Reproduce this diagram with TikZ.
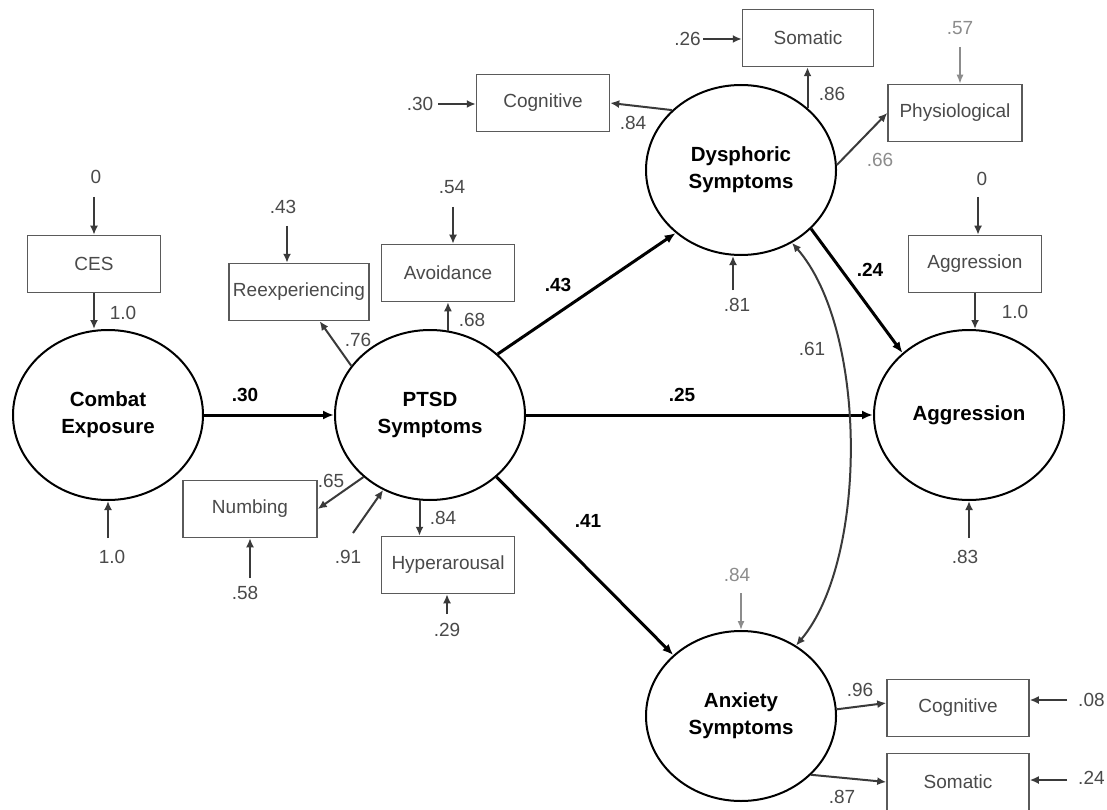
\documentclass[tikz,border=0pt]{standalone}
\usepackage{fontspec}
\setmainfont{Liberation Sans}
\usetikzlibrary{arrows.meta,shapes.geometric,calc}
\definecolor{ln}{HTML}{3A3A3A}
\definecolor{boxc}{HTML}{5A5A5A}
\definecolor{txtc}{HTML}{4A4A4A}
\definecolor{lgray}{HTML}{8C8C8C}
\begin{document}
\begin{tikzpicture}[x=1pt,y=-1pt,
  latent/.style={ellipse,draw=black,line width=2pt,inner sep=0pt,minimum width=190pt,minimum height=170pt,align=center,font=\fontsize{20.5}{27}\selectfont\bfseries},
  obs/.style={rectangle,draw=boxc,line width=1.5pt,minimum width=133pt,minimum height=57pt,inner sep=0pt,font=\fontsize{19}{21}\selectfont,text=txtc},
  num/.style={font=\fontsize{19}{21}\selectfont,text=txtc,inner sep=0pt},
  lnum/.style={font=\fontsize{19}{21}\selectfont,text=lgray,inner sep=0pt},
  bnum/.style={font=\fontsize{19}{21}\selectfont\bfseries,text=black,inner sep=0pt},
  link/.style={draw=ln,line width=2pt,-{Latex[length=9pt,width=8pt]}},
  llink/.style={draw=lgray,line width=1.6pt,-{Latex[length=9pt,width=7pt]}},
  mainlink/.style={draw=black,line width=3pt,-{Latex[length=11pt,width=9pt]}},
  curvelink/.style={draw=ln,line width=2pt,{Latex[length=9pt,width=8pt]}-{Latex[length=9pt,width=8pt]}}]
\useasboundingbox (0,0) rectangle (1107,810);
\fill[white] (0,0) rectangle (1107,810);

% latent variables
\node[latent] (ce) at (108,415) {Combat\\Exposure};
\node[latent] (ptsd) at (430,415) {PTSD\\Symptoms};
\node[latent] (dys) at (741,170) {Dysphoric\\Symptoms};
\node[latent] (agg) at (969,415) {Aggression};
\node[latent] (anx) at (741,716) {Anxiety\\Symptoms};

% observed variables
\node[obs] (ces) at (94,264) {CES};
\node[obs,minimum width=140pt] (reexp) at (299,292) {Reexperiencing};
\node[obs] (avoid) at (448,273) {Avoidance};
\node[obs,minimum width=134pt] (numb) at (250,509) {Numbing};
\node[obs] (hyper) at (448,565) {Hyperarousal};
\node[obs] (cogd) at (543,103) {Cognitive};
\node[obs,minimum width=131pt] (somd) at (808,38) {Somatic};
\node[obs,minimum width=134pt] (phys) at (955,113) {Physiological};
\node[obs] (aggb) at (975,264) {Aggression};
\node[obs,minimum width=142pt] (coga) at (958,708) {Cognitive};
\node[obs,minimum width=142pt] (soma) at (958,782) {Somatic};

% free ends of error arrows
\coordinate (eces) at (94,197);
\coordinate (ece) at (108,538);
\coordinate (ereexp) at (287,226);
\coordinate (eavoid) at (453,207);
\coordinate (enumb) at (250,578);
\coordinate (ehyper) at (447,614);
\coordinate (eptsd) at (353,533);
\coordinate (ecogd) at (438,104);
\coordinate (esomd) at (703,39);
\coordinate (ephys) at (960,47);
\coordinate (edys) at (733,290);
\coordinate (eaggb) at (978,197);
\coordinate (eagg) at (969,538);
\coordinate (eanx) at (741,593);
\coordinate (ecoga) at (1067,700);
\coordinate (esoma) at (1067,780);

% error arrows
\draw[link] (eces) -- (eces |- ces.north);
\draw[link] (ece) -- (ce.south);
\draw[link] (ereexp) -- (ereexp |- reexp.north);
\draw[link] (eavoid) -- (eavoid |- avoid.north);
\draw[link] (enumb) -- (enumb |- numb.south);
\draw[link] (ehyper) -- (ehyper |- hyper.south);
\draw[link] (eptsd) -- (ptsd.238);
\draw[link] (ecogd) -- (ecogd -| cogd.west);
\draw[link] (esomd) -- (esomd -| somd.west);
\draw[llink] (ephys) -- (ephys |- phys.north);
\draw[link] (edys) -- (edys |- dys.south);
\draw[link] (eaggb) -- (eaggb |- aggb.north);
\draw[link] (eagg) -- (agg.south);
\draw[llink] (eanx) -- (anx.north);
\draw[link] (ecoga) -- (ecoga -| coga.east);
\draw[link] (esoma) -- (esoma -| soma.east);

% loadings
\draw[link] (ces.south) -- (ces.south |- ce.north);
\draw[link] (aggb.south) -- (aggb.south |- agg.north);
\draw[link] (ptsd.148) -- (reexp);
\draw[link] (ptsd.78) -- (ptsd.78 |- avoid.south);
\draw[link] (ptsd.223) -- (numb.east);
\draw[link] (ptsd.263) -- (ptsd.263 |- hyper.north);
\draw[link] (dys.139) -- (cogd.east);
\draw[link] (dys.43) -- (dys.43 |- somd.south);
\draw[link] (dys.3) -- (phys.west);
\draw[link] (anx.4) -- ([yshift=5pt]coga.west);
\draw[link] (anx.320) -- (soma.west);

% structural paths
\draw[mainlink] (ce) -- (ptsd);
\draw[mainlink] (ptsd.42) -- (dys.224);
\draw[mainlink] (ptsd.317) -- (anx.138);
\draw[mainlink] (ptsd) -- (agg);
\draw[mainlink] (dys.320) -- (agg.137);
\draw[curvelink] (dys.305) .. controls (868,330) and (868,560) .. (anx.52);

% labels
\node[num] (l1) at (96,177) {0};
\node[num] (l2) at (123,313) {1.0};
\node[num] (l3) at (112,557) {1.0};
\node[num] (l4) at (283,207) {.43};
\node[num] (l5) at (452,187) {.54};
\node[num] (l6) at (358,340) {.76};
\node[num] (l7) at (472,320) {.68};
\node[num] (l8) at (331,481) {.65};
\node[num] (l9) at (348,557) {.91};
\node[num] (l10) at (443,518) {.84};
\node[num] (l11) at (245,593) {.58};
\node[num] (l12) at (447,630) {.29};
\node[bnum] (b1) at (245,395) {.30};
\node[bnum] (b2) at (558,285) {.43};
\node[bnum] (b3) at (682,395) {.25};
\node[bnum] (b4) at (588,521) {.41};
\node[bnum] (b5) at (870,270) {.24};
\node[num] (l13) at (420,104) {.30};
\node[num,anchor=east] (l14) at (701,39) {.26};
\node[num] (l15) at (633,123) {.84};
\node[num] (l16) at (832,94) {.86};
\node[lnum] (l17) at (960,28) {.57};
\node[lnum] (l18) at (880,160) {.66};
\node[num] (l19) at (737,305) {.81};
\node[num] (l20) at (982,179) {0};
\node[num] (l21) at (1015,312) {1.0};
\node[num] (l22) at (965,557) {.83};
\node[num] (l23) at (812,349) {.61};
\node[lnum] (l24) at (737,575) {.84};
\node[num] (l25) at (860,690) {.96};
\node[num] (l26) at (842,797) {.87};
\node[num,anchor=west] (l27) at (1078,700) {.08};
\node[num,anchor=west] (l28) at (1078,778) {.24};
\end{tikzpicture}
\end{document}
